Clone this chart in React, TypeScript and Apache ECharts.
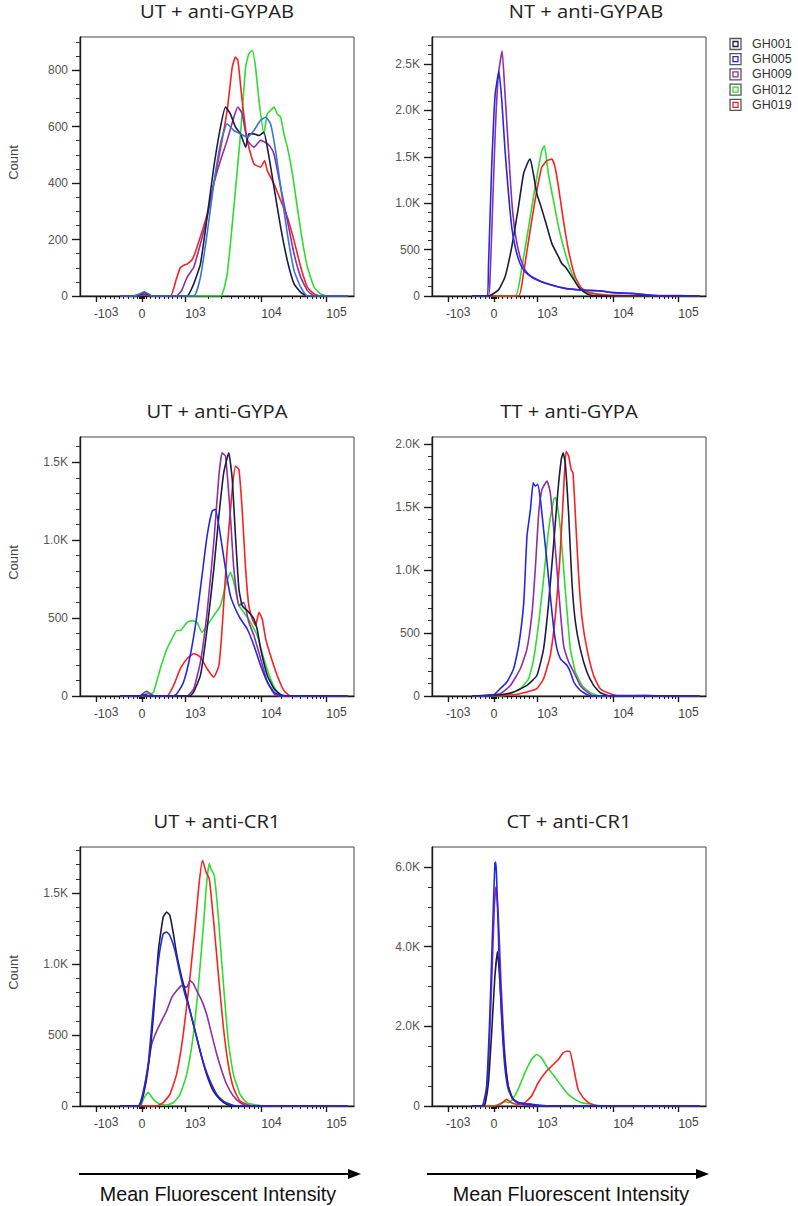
import React, { useEffect, useRef } from "react";
import * as echarts from "echarts";

// ---------- samples ----------
const SAMPLES = ["GH001", "GH005", "GH009", "GH012", "GH019"];
const COLORS = ["#1d1d40", "#2428e6", "#8e2ea8", "#2fdc2f", "#f72222"];
// the first panel shows GH005 in a lighter steel blue
const PANEL1_GH005_COLOR = "#3a74d4";
const DRAW_ORDER = [3, 4, 2, 0, 1];

// ---------- axes (x in display channels, 0..1024 biexponential scale) ----------
const X_MAX = 1024;
const X_TICK_CHANNELS = [60, 232, 394, 678, 921];
const X_TICK_LABELS = ["-10^3", "0", "10^3", "10^4", "10^5"];

const PANEL_TITLES = [
  "UT + anti-GYPAB",
  "NT + anti-GYPAB",
  "UT + anti-GYPA",
  "TT + anti-GYPA",
  "UT + anti-CR1",
  "CT + anti-CR1",
];
const Y_MAX = [917, 2790, 1662, 2055, 1824, 6500];
const Y_STEP = [200, 500, 500, 500, 500, 2000];
const Y_MINOR = [50, 100, 100, 100, 100, 500];

// ---------- data: [channel, count] ----------
// UT + anti-GYPAB
const UT_GYPAB_GH001 = [[150,0],[200,0],[225,6],[240,12],[255,6],[270,0],[400,0],[425,43],[450,113],[475,279],[500,456],[525,598],[544,669],[562,645],[581,598],[600,574],[619,527],[631,574],[650,574],[669,568],[687,580],[700,527],[725,385],[750,243],[775,125],[800,43],[825,13],[850,0],[1000,0]];
const UT_GYPAB_GH005 = [[150,0],[200,0],[225,8],[240,15],[255,8],[270,0],[425,0],[450,66],[475,220],[500,397],[525,539],[550,610],[575,586],[600,574],[625,562],[650,586],[675,622],[694,633],[712,610],[731,515],[750,385],[775,220],[800,90],[825,31],[850,0],[1000,0]];
const UT_GYPAB_GH009 = [[150,0],[200,0],[230,4],[245,5],[260,0],[360,0],[380,20],[400,66],[425,102],[450,184],[475,279],[500,397],[525,480],[550,551],[575,633],[590,669],[606,645],[625,551],[650,527],[675,551],[700,539],[712,527],[725,503],[750,385],[775,267],[800,149],[825,66],[850,19],[875,0],[1000,0]];
const UT_GYPAB_GH012 = [[150,0],[200,0],[235,3],[250,3],[270,0],[525,0],[550,78],[575,314],[600,574],[619,810],[631,858],[644,870],[656,810],[669,692],[687,574],[700,645],[712,657],[725,669],[737,645],[750,633],[762,574],[775,527],[794,432],[812,314],[831,196],[850,102],[875,31],[900,7],[925,0],[1000,0]];
const UT_GYPAB_GH019 = [[150,0],[200,0],[235,3],[250,3],[270,0],[338,0],[360,60],[375,100],[390,110],[400,113],[420,130],[437,172],[475,290],[512,456],[550,657],[569,810],[581,846],[590,835],[606,692],[625,550],[650,468],[675,456],[690,480],[700,444],[725,397],[750,338],[775,279],[800,196],[825,102],[850,31],[875,7],[900,0],[1000,0]];

// NT + anti-GYPAB
const NT_GYPAB_GH001 = [[150,0],[211,0],[248,64],[273,207],[298,528],[323,957],[342,1314],[361,1457],[367,1475],[379,1314],[392,1100],[404,993],[423,814],[448,564],[473,421],[485,350],[498,314],[523,207],[547,100],[567,46],[592,11],[622,0],[1000,0]];
const NT_GYPAB_GH005 = [[150,0],[205,0],[211,314],[223,1386],[236,2171],[250,2420],[261,2100],[273,1564],[286,1100],[298,743],[311,528],[329,350],[348,260],[373,207],[410,154],[448,118],[498,82],[560,64],[622,57],[684,36],[747,29],[809,11],[871,0],[1000,0]];
const NT_GYPAB_GH009 = [[150,0],[210,0],[217,200],[223,671],[236,1743],[248,2385],[262,2640],[273,2171],[286,1564],[298,1028],[311,671],[329,421],[348,278],[373,200],[410,150],[448,115],[498,80],[560,62],[622,55],[684,34],[747,26],[809,10],[871,0],[1000,0]];
const NT_GYPAB_GH012 = [[150,0],[311,0],[336,314],[361,743],[385,1171],[410,1564],[420,1618],[435,1314],[454,1028],[473,743],[498,457],[523,243],[547,100],[572,46],[622,21],[684,0],[1000,0]];
const NT_GYPAB_GH019 = [[150,0],[323,0],[342,243],[361,600],[385,1028],[410,1386],[429,1457],[448,1475],[460,1386],[473,1171],[491,814],[510,493],[535,207],[560,82],[597,29],[647,11],[750,6],[933,5],[960,0],[1000,0]];

// UT + anti-GYPA
const UT_GYPA_GH001 = [[150,0],[225,0],[240,8],[260,0],[410,0],[425,26],[450,132],[475,430],[500,814],[519,1155],[537,1432],[556,1560],[569,1389],[581,1027],[594,686],[606,580],[625,548],[640,520],[650,494],[662,430],[675,303],[700,132],[725,47],[750,9],[775,0],[1000,0]];
const UT_GYPA_GH005 = [[150,0],[225,0],[240,10],[260,0],[350,0],[362,15],[387,90],[412,260],[437,516],[456,771],[475,1027],[494,1187],[506,1198],[525,1027],[544,814],[562,644],[581,558],[600,494],[625,430],[650,324],[675,196],[700,90],[725,26],[750,0],[1000,0]];
const UT_GYPA_GH009 = [[150,0],[225,0],[238,20],[250,30],[262,15],[280,0],[400,0],[425,47],[450,217],[475,537],[500,985],[519,1411],[531,1560],[544,1539],[562,1155],[575,814],[594,580],[612,601],[631,473],[650,388],[675,239],[700,90],[725,15],[740,0],[1000,0]];
const UT_GYPA_GH012 = [[150,0],[235,0],[250,20],[262,10],[275,26],[300,175],[325,303],[350,388],[362,420],[375,420],[400,473],[419,484],[437,473],[456,409],[475,452],[500,516],[525,580],[544,707],[562,793],[575,729],[594,580],[612,537],[637,473],[662,388],[687,239],[712,111],[737,26],[760,0],[1000,0]];
const UT_GYPA_GH019 = [[150,0],[325,0],[350,68],[375,175],[400,239],[425,271],[437,265],[450,249],[475,175],[500,121],[519,196],[531,430],[550,942],[569,1325],[581,1475],[594,1453],[606,1198],[619,814],[631,580],[644,494],[656,452],[669,537],[681,494],[694,367],[712,260],[737,132],[762,36],[787,0],[1000,0]];

// TT + anti-GYPA
const TT_GYPA_GH001 = [[150,0],[255,10],[305,32],[355,84],[392,163],[417,374],[436,743],[455,1217],[470,1613],[483,1876],[490,1929],[498,1850],[511,1428],[523,901],[536,585],[554,374],[579,190],[604,84],[629,26],[667,0],[1000,0]];
const TT_GYPA_GH005 = [[150,0],[224,0],[255,58],[280,111],[305,216],[324,400],[343,743],[355,1270],[368,1481],[378,1692],[386,1665],[395,1679],[405,1560],[417,1323],[430,1059],[442,796],[455,532],[467,374],[480,295],[492,269],[505,242],[517,190],[530,111],[548,58],[567,26],[592,0],[700,3],[800,3],[850,0],[1000,0]];
const TT_GYPA_GH009 = [[150,0],[255,18],[293,84],[330,216],[355,374],[374,664],[386,1006],[399,1455],[411,1639],[430,1705],[442,1613],[455,1323],[467,1006],[480,664],[492,400],[511,269],[530,190],[554,84],[579,32],[604,0],[1000,0]];
const TT_GYPA_GH012 = [[150,0],[260,0],[293,18],[330,58],[361,137],[380,295],[399,585],[417,928],[436,1323],[455,1560],[461,1575],[467,1534],[480,1323],[492,1006],[505,664],[517,374],[536,190],[561,84],[592,26],[629,0],[1000,0]];
const TT_GYPA_GH019 = [[150,0],[305,10],[355,32],[392,58],[417,137],[442,321],[461,638],[477,1059],[492,1639],[501,1942],[511,1902],[520,1797],[527,1771],[536,1428],[548,954],[561,611],[579,374],[604,163],[629,58],[667,18],[704,0],[800,4],[900,0],[1000,0]];

// UT + anti-CR1
const UT_CR1_GH001 = [[150,0],[218,0],[237,82],[255,271],[274,624],[293,1095],[311,1331],[324,1366],[336,1342],[349,1213],[361,1072],[380,907],[399,765],[417,624],[436,483],[455,341],[473,224],[498,106],[523,47],[548,12],[573,0],[1000,0]];
const UT_CR1_GH005 = [[150,0],[218,0],[237,106],[255,294],[274,695],[293,1024],[311,1213],[324,1225],[336,1201],[355,1095],[374,930],[392,789],[411,671],[430,530],[449,389],[467,271],[486,177],[511,82],[536,35],[561,12],[585,0],[1000,0]];
const UT_CR1_GH009 = [[150,0],[224,0],[249,224],[268,436],[287,530],[305,600],[324,671],[343,765],[361,812],[380,848],[399,836],[411,883],[424,860],[436,812],[455,742],[473,648],[492,506],[511,365],[530,247],[548,153],[573,71],[598,24],[623,0],[1000,0]];
const UT_CR1_GH012 = [[150,0],[225,0],[240,60],[255,94],[274,47],[299,12],[324,7],[349,24],[374,82],[399,224],[424,506],[442,836],[461,1260],[473,1566],[483,1707],[492,1660],[502,1625],[517,1331],[536,860],[554,459],[573,224],[598,82],[623,24],[660,7],[700,0],[1000,0]];
const UT_CR1_GH019 = [[150,0],[287,0],[311,24],[336,82],[361,224],[386,506],[411,907],[430,1260],[445,1566],[458,1731],[471,1648],[483,1601],[498,1331],[517,930],[536,553],[554,294],[573,130],[598,35],[629,7],[660,0],[1000,0]];

// CT + anti-CR1
const CT_CR1_GH001 = [[150,0],[192,0],[199,67],[211,583],[223,1833],[235,3250],[245,3875],[254,3083],[263,2000],[272,1167],[285,500],[303,167],[334,67],[434,0],[1000,0]];
const CT_CR1_GH005 = [[150,0],[185,0],[191,42],[204,500],[216,2250],[226,4333],[235,6083],[238,6125],[241,5833],[250,3917],[260,2250],[272,1000],[285,417],[303,167],[322,83],[372,42],[434,0],[1000,0]];
const CT_CR1_GH009 = [[150,0],[192,0],[199,83],[211,1000],[223,3083],[233,5000],[239,5500],[248,4750],[258,3083],[270,1500],[285,500],[303,167],[322,67],[372,0],[1000,0]];
const CT_CR1_GH012 = [[150,0],[223,0],[248,40],[272,110],[285,90],[297,130],[322,417],[347,833],[372,1167],[391,1292],[409,1208],[428,1000],[447,833],[466,667],[484,500],[509,292],[534,167],[559,83],[596,42],[646,0],[1000,0]];
const CT_CR1_GH019 = [[150,0],[235,0],[260,67],[279,167],[297,83],[322,42],[347,83],[372,250],[397,583],[423,833],[447,1000],[472,1167],[490,1333],[503,1375],[515,1375],[528,1000],[546,417],[565,208],[590,67],[621,0],[1000,0]];

const PANEL_DATA = [
  [UT_GYPAB_GH001, UT_GYPAB_GH005, UT_GYPAB_GH009, UT_GYPAB_GH012, UT_GYPAB_GH019],
  [NT_GYPAB_GH001, NT_GYPAB_GH005, NT_GYPAB_GH009, NT_GYPAB_GH012, NT_GYPAB_GH019],
  [UT_GYPA_GH001, UT_GYPA_GH005, UT_GYPA_GH009, UT_GYPA_GH012, UT_GYPA_GH019],
  [TT_GYPA_GH001, TT_GYPA_GH005, TT_GYPA_GH009, TT_GYPA_GH012, TT_GYPA_GH019],
  [UT_CR1_GH001, UT_CR1_GH005, UT_CR1_GH009, UT_CR1_GH012, UT_CR1_GH019],
  [CT_CR1_GH001, CT_CR1_GH005, CT_CR1_GH009, CT_CR1_GH012, CT_CR1_GH019],
];

// ---------- layout ----------
const COL_LEFT = [80, 432];
const ROW_TOP = [37, 437, 847];
const GRID_W = 274;
const GRID_H = 259;
const SANS = "'Liberation Sans', Arial, sans-serif";
const TITLE_FONT = "'Open Sans', sans-serif";

function decadeTicks(a: number, b: number) {
  return [2, 3, 4, 5, 6, 7, 8, 9].map((k) => a + (b - a) * Math.log10(k));
}
function linearTicks(a: number, b: number) {
  return [1, 2, 3, 4, 5, 6, 7, 8, 9].map((k) => a + ((b - a) * k) / 10);
}
const [T_NEG, T_ZERO, T_3, T_4, T_5] = X_TICK_CHANNELS;
const X_MINOR = [
  ...linearTicks(T_ZERO, T_NEG),
  ...linearTicks(T_ZERO, T_3),
  ...decadeTicks(T_3, T_4),
  ...decadeTicks(T_4, T_5),
  T_ZERO - 9, T_ZERO - 6, T_ZERO - 3, T_ZERO + 3, T_ZERO + 6, T_ZERO + 9,
];

function yFormat(p: number) {
  return (v: number) => {
    if (p === 0) return String(v);
    if (v === 0) return "0";
    if (v < 1000) return String(v);
    return (v / 1000).toFixed(1) + "K";
  };
}

function xFormat(v: number) {
  const i = X_TICK_CHANNELS.findIndex((c) => Math.abs(c - v) < 0.5);
  const lab = X_TICK_LABELS[i] ?? "";
  if (lab === "0") return "{z|0}";
  const [base, exp] = lab.split("^");
  return `{sp| }{b|${base}}{s|${exp}}`;
}

function buildOption() {
  const grid: any[] = [];
  const xAxis: any[] = [];
  const yAxis: any[] = [];
  const series: any[] = [];
  const graphic: any[] = [];

  for (let p = 0; p < 6; p++) {
    const col = p % 2;
    const row = Math.floor(p / 2);
    const left = COL_LEFT[col];
    const top = ROW_TOP[row];
    grid.push({
      left, top, width: GRID_W, height: GRID_H,
      show: true, borderColor: "#444", borderWidth: 1, backgroundColor: "transparent",
    });

    const yMajors: number[] = [];
    for (let v = 0; v <= Y_MAX[p]; v += Y_STEP[p]) yMajors.push(v);
    const yMinors: number[] = [];
    for (let v = Y_MINOR[p]; v < Y_MAX[p]; v += Y_MINOR[p]) if (v % Y_STEP[p] !== 0) yMinors.push(v);

    xAxis.push({
      type: "value", gridIndex: p, min: 0, max: X_MAX, position: "bottom",
      axisLine: { show: true, onZero: false, lineStyle: { color: "#1a1a1a", width: 1.4 } },
      axisTick: { show: true, customValues: X_TICK_CHANNELS, length: 6, lineStyle: { color: "#1a1a1a", width: 1.4 } },
      axisLabel: {
        show: true, customValues: X_TICK_CHANNELS, margin: 10, color: "#444", fontFamily: SANS,
        formatter: xFormat,
        rich: {
          sp: { width: 20, fontSize: 12 },
          z: { fontSize: 12.5, fontFamily: SANS, color: "#444", padding: [7, 0, 0, 0], lineHeight: 14, verticalAlign: "bottom" },
          b: { fontSize: 12.5, fontFamily: SANS, color: "#444", padding: [7, 0, 0, 0], lineHeight: 14, verticalAlign: "bottom" },
          s: { fontSize: 12, fontFamily: SANS, color: "#444", lineHeight: 8, verticalAlign: "top" },
        },
      },
      splitLine: { show: false },
    });
    xAxis.push({
      type: "value", gridIndex: p, min: 0, max: X_MAX, position: "bottom",
      axisLine: { show: false, onZero: false },
      axisTick: { show: true, customValues: X_MINOR, length: 3, lineStyle: { color: "#1a1a1a", width: 1 } },
      axisLabel: { show: false },
      splitLine: { show: false },
    });

    yAxis.push({
      type: "value", gridIndex: p, min: 0, max: Y_MAX[p], position: "left",
      axisLine: { show: true, onZero: false, lineStyle: { color: "#1a1a1a", width: 1.4 } },
      axisTick: { show: true, customValues: yMajors, length: 8, lineStyle: { color: "#1a1a1a", width: 1.4 } },
      axisLabel: { show: true, customValues: yMajors, margin: 12, color: "#555", fontSize: 12, fontFamily: SANS, formatter: yFormat(p) },
      splitLine: { show: false },
    });
    yAxis.push({
      type: "value", gridIndex: p, min: 0, max: Y_MAX[p], position: "left",
      axisLine: { show: false, onZero: false },
      axisTick: { show: true, customValues: yMinors, length: 4, lineStyle: { color: "#333", width: 1 } },
      axisLabel: { show: false },
      splitLine: { show: false },
    });

    DRAW_ORDER.forEach((s) => {
      const color = p === 0 && s === 1 ? PANEL1_GH005_COLOR : COLORS[s];
      series.push({
        type: "line",
        name: SAMPLES[s],
        xAxisIndex: 2 * p,
        yAxisIndex: 2 * p,
        data: PANEL_DATA[p][s],
        showSymbol: false,
        symbol: "none",
        silent: true,
        smooth: 0.15,
        lineStyle: { width: 1.6, color },
        itemStyle: { color },
      });
    });

    // panel title
    graphic.push({
      type: "text",
      x: left + GRID_W / 2 + (p === 1 ? 17 : 0),
      y: top - 26,
      scaleX: 1.12,
      style: {
        text: PANEL_TITLES[p], fontSize: 18, fontFamily: TITLE_FONT, fill: "#222",
        align: "center", verticalAlign: "middle", textAlign: "center", textVerticalAlign: "middle",
      },
    });
    if (col === 0) {
      graphic.push({
        type: "text",
        x: 13,
        y: top + GRID_H / 2 - 4,
        rotation: Math.PI / 2,
        style: {
          text: "Count", fontSize: 13, fontFamily: SANS, fill: "#444",
          align: "center", verticalAlign: "middle", textAlign: "center", textVerticalAlign: "middle",
        },
      });
    }
  }

  // legend (top right)
  SAMPLES.forEach((name, i) => {
    const cy = 44 + i * 15.2;
    graphic.push({ type: "rect", shape: { x: 730, y: cy - 5.5, width: 11, height: 11 }, style: { fill: "#fff", stroke: "#555", lineWidth: 1.3 } });
    graphic.push({ type: "rect", shape: { x: 733, y: cy - 2.5, width: 5, height: 5 }, style: { fill: "#fff", stroke: COLORS[i], lineWidth: 1.3 } });
    graphic.push({
      type: "text", x: 752, y: cy,
      style: { text: name, fontSize: 12.5, fontFamily: SANS, fill: "#333", align: "left", verticalAlign: "middle", textAlign: "left", textVerticalAlign: "middle" },
    });
  });

  // bottom arrows + axis captions
  [
    { x1: 79, x2: 350, tip: 361, cx: 218 },
    { x1: 427, x2: 698, tip: 709, cx: 571 },
  ].forEach((a) => {
    graphic.push({ type: "line", shape: { x1: a.x1, y1: 1174, x2: a.x2, y2: 1174 }, style: { stroke: "#000", lineWidth: 2 } });
    graphic.push({ type: "polygon", shape: { points: [[a.x2 - 2, 1169], [a.tip, 1174], [a.x2 - 2, 1179]] }, style: { fill: "#000" } });
    graphic.push({
      type: "text", x: a.cx, y: 1194,
      style: { text: "Mean Fluorescent Intensity", fontSize: 19.7, fontFamily: SANS, fill: "#111", align: "center", verticalAlign: "middle", textAlign: "center", textVerticalAlign: "middle" },
    });
  });

  return {
    animation: false,
    backgroundColor: "#ffffff",
    textStyle: { fontFamily: SANS },
    grid,
    xAxis,
    yAxis,
    series,
    graphic,
  };
}

export default function App() {
  const ref = useRef<HTMLDivElement>(null);
  useEffect(() => {
    if (!ref.current) return;
    const chart = echarts.init(ref.current, undefined, { renderer: "svg" });
    chart.setOption(buildOption() as any);
    return () => chart.dispose();
  }, []);
  return (
    <div
      ref={ref}
      style={{ position: "absolute", left: 0, top: 0, width: "798px", height: "1206px", background: "#fff" }}
    />
  );
}
